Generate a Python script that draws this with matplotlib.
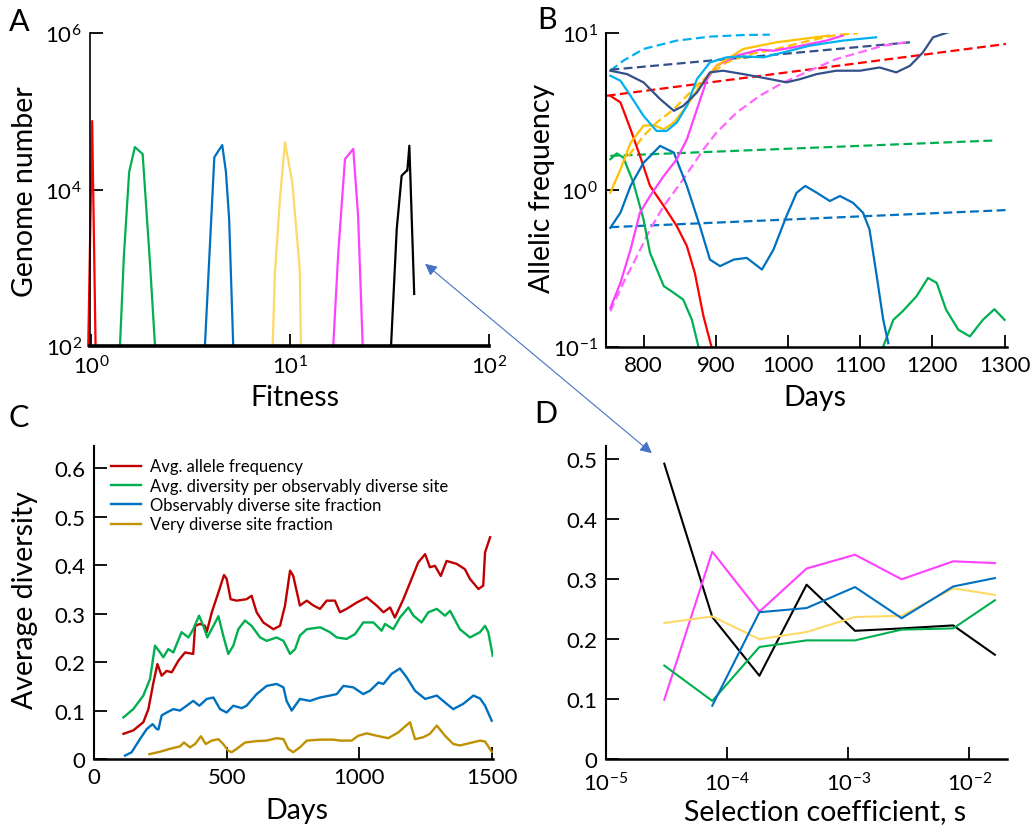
import matplotlib
matplotlib.use('Agg')
import matplotlib.pyplot as plt
from matplotlib.patches import FancyArrowPatch
from matplotlib.ticker import FixedLocator, NullLocator, FuncFormatter

plt.rcParams['font.family'] = ['Lato', 'DejaVu Sans']
plt.rcParams['mathtext.fontset'] = 'custom'
plt.rcParams['mathtext.rm'] = 'Lato'
plt.rcParams['mathtext.it'] = 'Lato:italic'
plt.rcParams['axes.unicode_minus'] = True

W, H = 1031, 828

# ---------------- panel A : fitness distributions ----------------
a_red_fit = [0.97, 1.015, 1.056]
a_red_n = [100, 75000, 100]
a_green_fit = [1.40, 1.465, 1.557, 1.664, 1.82, 1.98, 2.10]
a_green_n = [100, 1413, 16750, 34900, 28400, 1180, 100]
a_blue_fit = [3.74, 4.17, 4.57, 4.77, 4.95, 5.19]
a_blue_n = [100, 25800, 37000, 16750, 4200, 100]
a_yellow_fit = [8.19, 8.41, 8.91, 9.44, 10.27, 11.2, 11.36]
a_yellow_n = [100, 880, 7560, 40000, 12400, 960, 100]
a_magenta_fit = [16.5, 17.5, 18.9, 20.8, 22.0, 23.2]
a_magenta_n = [100, 1590, 24500, 33000, 4590, 100]
a_black_fit = [32.2, 34.4, 36.4, 38.6, 38.9, 39.8, 42.1]
a_black_n = [100, 3130, 15000, 17400, 17400, 36300, 462]

# ---------------- panel B : allele trajectories ----------------
b_red_day = [754, 768, 782, 795, 809, 828, 846, 860, 871, 883, 894]
b_red_f = [3.99, 3.62, 2.44, 1.65, 1.06, 0.789, 0.588, 0.438, 0.295, 0.156, 0.1]
b_green1_day = [754, 763, 772, 786, 800, 809, 828, 842, 855, 867, 876]
b_green1_f = [1.57, 1.71, 1.61, 1.11, 0.647, 0.396, 0.243, 0.22, 0.199, 0.148, 0.1]
b_green2_day = [1132, 1146, 1159, 1178, 1194, 1206, 1219, 1236, 1252, 1270, 1286, 1300]
b_green2_f = [0.1, 0.148, 0.168, 0.209, 0.274, 0.255, 0.172, 0.128, 0.116, 0.148, 0.173, 0.148]
b_blue_day = [754, 768, 782, 800, 823, 842, 860, 878, 892, 906, 925, 943, 964, 980,
              998, 1012, 1024, 1040, 1058, 1072, 1090, 1104, 1113, 1123, 1132, 1139]
b_blue_f = [0.573, 0.715, 1.06, 1.49, 1.91, 1.73, 1.06, 0.588, 0.359, 0.326, 0.359, 0.368, 0.31, 0.416,
            0.681, 0.959, 1.06, 0.959, 0.849, 0.914, 0.828, 0.715, 0.559, 0.281, 0.148, 0.105]
b_magenta_day = [754, 768, 782, 795, 809, 828, 846, 860, 874, 888, 901, 929, 961, 980, 1007, 1053, 1076]
b_magenta_f = [0.176, 0.255, 0.416, 0.715, 0.914, 1.227, 1.57, 2.1, 3.28, 5.1, 6.2, 7.2, 7.86, 7.74, 8.13, 8.98, 9.67]
b_orange_day = [754, 768, 782, 800, 814, 828, 842, 860, 878, 901, 938, 984, 1030, 1057]
b_orange_f = [0.959, 1.35, 2.0, 2.57, 2.59, 2.44, 2.69, 3.44, 4.62, 6.2, 7.94, 8.76, 9.33, 9.67]
b_sky_day = [754, 768, 782, 800, 818, 832, 846, 860, 874, 892, 915, 938, 966, 994, 1030, 1076, 1122]
b_sky_f = [5.36, 4.98, 3.99, 2.97, 2.38, 2.38, 2.69, 3.44, 5.1, 6.52, 7.02, 7.12, 7.02, 7.56, 8.34, 8.98, 9.43]
b_navy_day = [754, 777, 800, 823, 842, 855, 874, 892, 910, 938, 975, 998, 1017, 1040,
              1067, 1100, 1127, 1150, 1169, 1187, 1201, 1222]
b_navy_f = [5.77, 5.49, 4.86, 3.80, 3.20, 3.44, 4.19, 5.63, 5.77, 5.49, 5.1, 4.86, 5.1, 5.49,
            5.77, 5.77, 6.05, 5.63, 6.2, 7.56, 9.43, 10.15]

# dashed: fitted trajectories
bd_sky_day = [754, 772, 800, 846, 892, 938, 975]
bd_sky_f = [5.77, 6.68, 7.94, 8.98, 9.52, 9.75, 9.8]
bd_navy_day = [754, 1169]
bd_navy_f = [5.85, 8.76]
bd_red_day = [749, 1302]
bd_red_f = [3.99, 8.55]
bd_green_day = [754, 1288]
bd_green_f = [1.65, 2.07]
bd_blue_day = [754, 1302]
bd_blue_f = [0.578, 0.743]
bd_orange_day = [779, 800, 818, 842, 860, 878, 892, 915, 948, 984, 1030, 1067, 1097]
bd_orange_f = [1.65, 2.21, 2.69, 3.28, 3.99, 4.86, 5.49, 6.52, 7.37, 7.94, 8.98, 9.76, 10.0]
bd_magenta_day = [754, 772, 791, 809, 828, 855, 883, 901, 929, 961, 994, 1030, 1067, 1100, 1132, 1169]
bd_magenta_f = [0.168, 0.255, 0.378, 0.559, 0.789, 1.168, 1.816, 2.32, 3.12, 3.99, 4.86, 5.77, 6.85, 7.56, 8.34, 8.84]

# ---------------- panel C : diversity over time ----------------
c_red_day = [111, 148, 186, 205, 224, 239, 255, 274, 293, 318, 343, 374, 381, 400, 418, 425, 444,
             469, 490, 500, 515, 538, 575, 594, 613, 638, 676, 701, 720, 739, 751, 776, 802, 827,
             852, 877, 908, 927, 952, 990, 1028, 1065, 1091, 1116, 1134, 1166, 1197, 1222, 1248,
             1266, 1285, 1307, 1329, 1367, 1398, 1417, 1449, 1467, 1474, 1493]
c_red_val = [0.052, 0.059, 0.076, 0.103, 0.158, 0.196, 0.172, 0.182, 0.179, 0.203, 0.220, 0.217,
             0.275, 0.279, 0.275, 0.262, 0.303, 0.344, 0.380, 0.372, 0.330, 0.327, 0.330, 0.337,
             0.303, 0.282, 0.268, 0.275, 0.317, 0.389, 0.378, 0.317, 0.327, 0.317, 0.310, 0.327,
             0.327, 0.303, 0.310, 0.323, 0.334, 0.317, 0.303, 0.313, 0.292, 0.330, 0.372, 0.406,
             0.423, 0.396, 0.399, 0.378, 0.409, 0.403, 0.392, 0.372, 0.351, 0.358, 0.427, 0.458]
c_green_day = [111, 148, 186, 211, 230, 249, 261, 280, 299, 330, 356, 374, 396, 412, 427, 450,
               469, 487, 506, 525, 544, 569, 594, 626, 651, 688, 714, 739, 758, 776, 802, 852,
               889, 915, 952, 984, 1015, 1053, 1084, 1097, 1128, 1153, 1185, 1204, 1235, 1260,
               1292, 1323, 1342, 1379, 1417, 1455, 1474, 1486, 1503]
c_green_val = [0.086, 0.103, 0.131, 0.165, 0.234, 0.220, 0.210, 0.227, 0.220, 0.262, 0.251, 0.268,
               0.296, 0.275, 0.251, 0.275, 0.295, 0.255, 0.217, 0.234, 0.268, 0.286, 0.275, 0.251,
               0.244, 0.251, 0.244, 0.217, 0.227, 0.255, 0.268, 0.272, 0.262, 0.251, 0.248, 0.258,
               0.282, 0.282, 0.265, 0.279, 0.268, 0.292, 0.313, 0.296, 0.282, 0.303, 0.310, 0.296,
               0.306, 0.268, 0.251, 0.262, 0.275, 0.262, 0.213]
c_blue_day = [117, 142, 173, 199, 221, 236, 243, 255, 274, 299, 324, 349, 374, 397, 425, 450,
              475, 500, 525, 557, 575, 613, 651, 688, 714, 726, 745, 776, 814, 852, 889, 915,
              940, 977, 1015, 1040, 1072, 1091, 1122, 1153, 1178, 1210, 1248, 1292, 1329, 1354,
              1392, 1430, 1455, 1474, 1499]
c_blue_val = [0.007, 0.014, 0.041, 0.062, 0.072, 0.062, 0.061, 0.090, 0.096, 0.103, 0.100, 0.110,
              0.120, 0.110, 0.124, 0.127, 0.103, 0.096, 0.110, 0.105, 0.110, 0.134, 0.151, 0.155,
              0.148, 0.120, 0.100, 0.124, 0.120, 0.127, 0.131, 0.134, 0.151, 0.148, 0.134, 0.141,
              0.158, 0.155, 0.176, 0.187, 0.169, 0.141, 0.124, 0.131, 0.114, 0.103, 0.114, 0.131,
              0.125, 0.110, 0.079]
c_gold_day = [209, 249, 286, 324, 339, 362, 381, 403, 421, 444, 469, 487, 506, 519, 538, 569,
              613, 651, 688, 714, 732, 751, 776, 802, 852, 902, 927, 971, 996, 1028, 1065, 1109,
              1147, 1191, 1210, 1241, 1266, 1292, 1323, 1354, 1379, 1417, 1455, 1474, 1499]
c_gold_val = [0.010, 0.015, 0.021, 0.026, 0.034, 0.024, 0.031, 0.047, 0.031, 0.038, 0.041, 0.031,
              0.017, 0.014, 0.021, 0.034, 0.037, 0.038, 0.043, 0.041, 0.021, 0.014, 0.024, 0.038,
              0.040, 0.040, 0.038, 0.038, 0.048, 0.053, 0.048, 0.043, 0.055, 0.076, 0.041, 0.045,
              0.052, 0.069, 0.048, 0.031, 0.028, 0.033, 0.038, 0.036, 0.015]
c_labels = ['Avg. allele frequency', 'Avg. diversity per observably diverse site',
            'Observably diverse site fraction', 'Very diverse site fraction']

# ---------------- panel D : diversity vs selection coefficient ----------------
d_s = [3.03e-5, 7.55e-5, 1.85e-4, 4.54e-4, 1.14e-3, 2.77e-3, 7.38e-3, 1.63e-2]
d_black = [0.493, 0.237, 0.139, 0.291, 0.214, 0.218, 0.223, 0.174]
d_magenta = [0.099, 0.346, 0.246, 0.318, 0.341, 0.300, 0.330, 0.327]
d_blue = [None, 0.089, 0.245, 0.252, 0.287, 0.235, 0.288, 0.302]
d_yellow = [0.227, 0.238, 0.200, 0.212, 0.237, 0.239, 0.285, 0.274]
d_green = [0.156, 0.097, 0.187, 0.198, 0.198, 0.216, 0.218, 0.265]

RED, GREEN, BLUE = '#FF0000', '#00B050', '#0070C0'
YELLOW, MAGENTA, ORANGE = '#FFD966', '#FF40FF', '#FFC000'
SKY, NAVY = '#00B0F0', '#34508A'


def fx(x, y):
    return (x / W, 1 - y / H)


def style(ax):
    for s in ['top', 'right']:
        ax.spines[s].set_visible(False)
    ax.spines['left'].set_linewidth(1.5)
    ax.spines['bottom'].set_linewidth(1.8)
    ax.tick_params(direction='in', length=9, width=1.3, labelsize=16, pad=6)
    ax.patch.set_alpha(0)


fig = plt.figure(figsize=(W / 100, H / 100), dpi=100)

# A
axA = fig.add_axes([90 / W, 1 - 347 / H, 399 / W, 313 / H])
style(axA)
axA.spines['bottom'].set_linewidth(2.6)
axA.spines['left'].set_linewidth(1.2)
axA.set_xscale('log')
axA.set_yscale('log')
for f, n, c in [(a_red_fit, a_red_n, RED), (a_green_fit, a_green_n, GREEN),
                (a_blue_fit, a_blue_n, BLUE), (a_yellow_fit, a_yellow_n, YELLOW),
                (a_magenta_fit, a_magenta_n, MAGENTA), (a_black_fit, a_black_n, 'black')]:
    axA.plot(f, n, color=c, lw=1.6, clip_on=False)
axA.set_xlim(0.99, 100)
axA.set_ylim(100, 1e6)
axA.xaxis.set_major_locator(FixedLocator([1, 10, 100]))
axA.yaxis.set_major_locator(FixedLocator([1e2, 1e4, 1e6]))
axA.xaxis.set_minor_locator(NullLocator())
axA.yaxis.set_minor_locator(NullLocator())

# B
axB = fig.add_axes([606 / W, 1 - 347.5 / H, 400.7 / W, 313.2 / H])
style(axB)
axB.set_yscale('log')
dash = (4, 2)
for d, v, c in [(bd_sky_day, bd_sky_f, SKY), (bd_navy_day, bd_navy_f, NAVY),
                (bd_red_day, bd_red_f, RED), (bd_green_day, bd_green_f, GREEN),
                (bd_blue_day, bd_blue_f, BLUE), (bd_orange_day, bd_orange_f, ORANGE),
                (bd_magenta_day, bd_magenta_f, '#FF66FF')]:
    axB.plot(d, v, color=c, lw=1.6, dashes=dash)
for d, v, c in [(b_red_day, b_red_f, RED), (b_green1_day, b_green1_f, GREEN),
                (b_green2_day, b_green2_f, GREEN), (b_blue_day, b_blue_f, BLUE),
                (b_magenta_day, b_magenta_f, MAGENTA), (b_orange_day, b_orange_f, ORANGE),
                (b_sky_day, b_sky_f, SKY), (b_navy_day, b_navy_f, NAVY)]:
    axB.plot(d, v, color=c, lw=1.6)
axB.set_xlim(748, 1303)
axB.set_ylim(0.1, 10)
axB.xaxis.set_major_locator(FixedLocator([800, 900, 1000, 1100, 1200, 1300]))
axB.yaxis.set_major_locator(FixedLocator([0.1, 1, 10]))
axB.yaxis.set_minor_locator(NullLocator())
for t in axB.xaxis.get_major_ticks()[3:]:
    t.tick1line.set_color(GREEN)

# C
axC = fig.add_axes([94 / W, 1 - 760 / H, 399.3 / W, 313.3 / H])
style(axC)
for d, v, c, lab in [(c_red_day, c_red_val, '#C00000', c_labels[0]),
                     (c_green_day, c_green_val, GREEN, c_labels[1]),
                     (c_blue_day, c_blue_val, BLUE, c_labels[2]),
                     (c_gold_day, c_gold_val, '#BF9000', c_labels[3])]:
    axC.plot(d, v, color=c, lw=1.7, label=lab)
axC.set_xlim(0, 1505)
axC.set_ylim(0, 0.647)
axC.set_xticks([0, 500, 1000, 1500])
axC.set_yticks([0, 0.1, 0.2, 0.3, 0.4, 0.5, 0.6])
axC.yaxis.set_major_formatter(FuncFormatter(lambda v, p: '0' if v == 0 else f'{v:.1f}'))
axC.legend(loc='upper left', bbox_to_anchor=fx(103, 451), bbox_transform=fig.transFigure,
           frameon=False, fontsize=12, borderpad=0, handlelength=1.8,
           handletextpad=0.5, labelspacing=0.2)

# D
axD = fig.add_axes([606 / W, 1 - 760 / H, 400.7 / W, 313.3 / H])
style(axD)
axD.set_xscale('log')
for v, c in [(d_black, 'black'), (d_magenta, MAGENTA), (d_yellow, YELLOW),
             (d_green, GREEN), (d_blue, BLUE)]:
    xs = [s for s, y in zip(d_s, v) if y is not None]
    ys = [y for y in v if y is not None]
    axD.plot(xs, ys, color=c, lw=1.5)
axD.set_xlim(1e-5, 10 ** -1.69)
axD.set_ylim(0, 0.523)
axD.xaxis.set_major_locator(FixedLocator([1e-5, 1e-4, 1e-3, 1e-2]))
axD.xaxis.set_minor_locator(NullLocator())
axD.set_yticks([0, 0.1, 0.2, 0.3, 0.4, 0.5])
axD.yaxis.set_major_formatter(FuncFormatter(lambda v, p: '0' if v == 0 else f'{v:.1f}'))
axD.tick_params(axis='x', pad=9)

# axis titles
lab = dict(fontsize=20.5, ha='center', va='center')
fig.text(*fx(25, 192), 'Genome number', rotation=90, **lab)
fig.text(*fx(295, 398), 'Fitness', **lab)
fig.text(*fx(542, 188), 'Allelic frequency', rotation=90, **lab)
fig.text(*fx(815, 398), 'Days', **lab)
fig.text(*fx(25, 600), 'Average diversity', rotation=90, **lab)
fig.text(*fx(297, 811), 'Days', **lab)
fig.text(*fx(825, 812), 'Selection coefficient, s', **lab)

# panel letters
for x, y, t in [(19, 22, 'A'), (547, 20, 'B'), (19, 418, 'C'), (546, 414, 'D')]:
    fig.text(*fx(x, y), t, fontsize=22, ha='center', va='center')

arrow = FancyArrowPatch(fx(423, 263), fx(654, 456), transform=fig.transFigure,
                        arrowstyle='<|-|>,head_length=7,head_width=3.5',
                        color='#4472C4', lw=0.8)
fig.add_artist(arrow)

fig.savefig('out.png', dpi=100, facecolor='white')
